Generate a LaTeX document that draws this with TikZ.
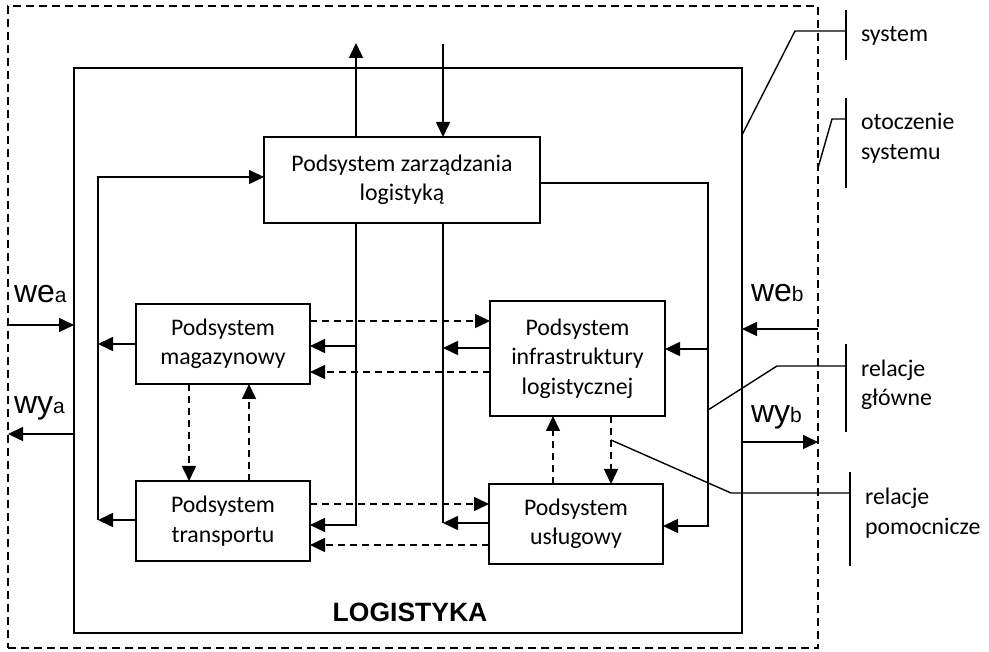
\documentclass[tikz,border=0pt]{standalone}
\usepackage{fontspec}
\setmainfont{Carlito}
\newfontfamily\arialfont{Liberation Sans}
\usetikzlibrary{arrows.meta}
% input/output label: large word with a small suffix on the same baseline
\newcommand\iolabel[2]{{\arialfont\fontsize{32}{32}\selectfont #1}{\arialfont\fontsize{21}{21}\selectfont #2}}
\begin{document}
\begin{tikzpicture}[x=1pt,y=-1pt,line width=1.6pt,
  every node/.style={inner sep=0pt,outer sep=0pt},
  box/.style={draw,line width=1.6pt,align=center,font=\fontsize{23.8}{29.5}\selectfont},
  arr/.style={-{Triangle[length=15pt,width=14pt]}},
  dsh/.style={dash pattern=on 7pt off 5pt},
  odsh/.style={dash pattern=on 8pt off 5pt},
  legendtext/.style={align=left,font=\fontsize{23.8}{29.5}\selectfont},
  thin/.style={line width=1.4pt}]
\useasboundingbox (0,0) rectangle (989,652);

% environment and system boundaries
\node[draw,odsh,line width=1.4pt,minimum width=810pt,minimum height=642pt] (env) at (413,327) {};
\node[draw,minimum width=668pt,minimum height=565pt] (sys) at (408,350.5) {};
\node[anchor=base,font=\arialfont\bfseries\fontsize{26.5}{26.5}\selectfont] (title) at (410,621) {LOGISTYKA};

% subsystems
\node[box,minimum width=276pt,minimum height=86pt] (mgmt) at (402,180) {Podsystem zarządzania\\logistyką};
\node[box,minimum width=174pt,minimum height=80pt] (mag) at (223,344) {Podsystem\\magazynowy};
\node[box,minimum width=174pt,minimum height=80pt] (trans) at (223,521) {Podsystem\\transportu};
\node[box,minimum width=175pt,minimum height=115pt] (infra) at (577.5,358.5) {Podsystem\\infrastruktury\\logistycznej};
\node[box,minimum width=174pt,minimum height=80pt] (usl) at (576,524) {Podsystem\\usługowy};

% bus lines and free ends
\coordinate (upT) at (356,43);
\coordinate (inT) at (443,44);
\coordinate (lT) at (98,177);
\coordinate (lB) at (98,520);
\coordinate (bA) at (356,525);
\coordinate (bB) at (443,523);
\coordinate (rT) at (708,183);
\coordinate (rB) at (708,526);

% management in/out
\draw[arr] (mgmt.north -| upT) -- (upT);
\draw[arr] (inT) -- (mgmt.north -| inT);

% left feedback bus
\draw[arr] (lB) -- (lT) -- (mgmt.west |- lT);
\draw[arr] (mag.west) -- (mag.west -| lT);
\draw[arr] (trans.west |- lB) -- (lB);

% bus A: management to warehouse and transport
\draw[arr] (mgmt.south -| bA) -- (bA) -- (trans.east |- bA);
\draw[arr] (bA |- 0,346) -- (mag.east |- 0,346);

% bus B: infrastructure and services back up
\draw (mgmt.south -| bB) -- (bB);
\draw[arr] (infra.west |- 0,348) -- (bB |- 0,348);
\draw[arr] (usl.west |- bB) -- (bB);

% right bus from management
\draw[arr] (mgmt.east |- rT) -- (rT) -- (rB) -- (usl.east |- rB);
\draw[arr] (rT |- 0,349) -- (infra.east |- 0,349);

% auxiliary (dashed) relations
\draw[arr,dsh] (mag.east |- 0,321) -- (infra.west |- 0,321);
\draw[arr,dsh] (infra.west |- 0,372) -- (mag.east |- 0,372);
\draw[arr,dsh] (trans.east |- 0,504) -- (usl.west |- 0,504);
\draw[arr,dsh] (usl.west |- 0,545) -- (trans.east |- 0,545);
\draw[arr,dsh] (mag.south -| 189,0) -- (trans.north -| 189,0);
\draw[arr,dsh] (trans.north -| 249,0) -- (mag.south -| 249,0);
\draw[arr,dsh] (usl.north -| 553,0) -- (infra.south -| 553,0);
\draw[arr,dsh] (infra.south -| 611,0) -- (usl.north -| 611,0);

% system inputs and outputs
\draw[arr] (env.west |- 0,325) -- (sys.west |- 0,325);
\draw[arr] (sys.west |- 0,434) -- (env.west |- 0,434);
\draw[arr] (env.east |- 0,329) -- (sys.east |- 0,329);
\draw[arr] (sys.east |- 0,442) -- (env.east |- 0,442);
\node[anchor=base west] (wea) at (14,303) {\iolabel{we}{a}};
\node[anchor=base west] (wya) at (14,414) {\iolabel{wy}{a}};
\node[anchor=base west] (web) at (751,302) {\iolabel{we}{b}};
\node[anchor=base west] (wyb) at (751,423) {\iolabel{wy}{b}};

% legend
\coordinate (k1t) at (846,10);  \coordinate (k1b) at (846,60);
\coordinate (k2t) at (846,98);  \coordinate (k2b) at (846,188);
\coordinate (k3t) at (846,344); \coordinate (k3b) at (846,432);
\coordinate (k4t) at (850,472); \coordinate (k4b) at (850,566);
\draw[thin] (k1t) -- (k1b);
\draw[thin] (k2t) -- (k2b);
\draw[thin] (k3t) -- (k3b);
\draw[thin] (k4t) -- (k4b);
\draw[thin] (sys.east |- 0,135) -- (795,31) -- (k1t |- 0,31);
\draw[thin] (env.east |- 0,168) -- (832,119) -- (k2t |- 0,119);
\draw[thin] (rT |- 0,410) -- (777,366) -- (k3t |- 0,366);
\draw[thin] (611,440) -- (731,493) -- (k4t |- 0,493);
\node[legendtext,anchor=base west] (l1) at (861,42) {system};
\node[legendtext,anchor=west] (l2) at (861,138) {otoczenie\\systemu};
\node[legendtext,anchor=west] (l3) at (861,385) {relacje\\główne};
\node[legendtext,anchor=west] (l4) at (865,513) {relacje\\pomocnicze};
\end{tikzpicture}
\end{document}
